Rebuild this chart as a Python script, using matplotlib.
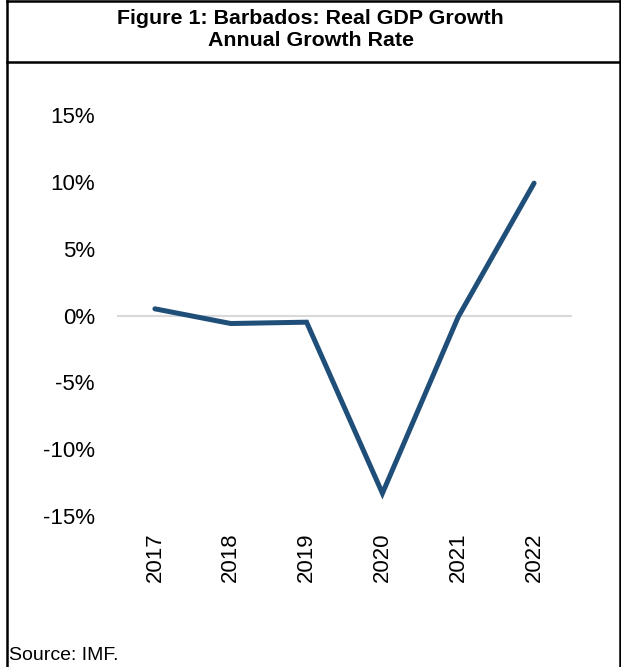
import matplotlib.pyplot as plt
from matplotlib.lines import Line2D
from matplotlib.ticker import FuncFormatter

# Real GDP growth, annual %
years = ["2017", "2018", "2019", "2020", "2021", "2022"]
growth = [0.5, -0.6, -0.5, -13.3, -0.1, 9.9]
yticks = [-15, -10, -5, 0, 5, 10, 15]

plt.rcParams['font.family'] = ['Liberation Sans', 'DejaVu Sans']

fig = plt.figure(figsize=(6.21, 6.67), dpi=100)

# Plot area
ax = fig.add_axes([117 / 621, 1 - 516 / 667, 455 / 621, 401 / 667])
x = range(len(years))
ax.axhline(0, color='#D9D9D9', linewidth=1.5, zorder=1)
ax.plot(x, growth, color='#1F4E79', linewidth=3.6, solid_capstyle='round',
        solid_joinstyle='miter', zorder=2)

ax.set_xlim(-0.5, len(years) - 0.5)
ax.set_ylim(-15, 15)
ax.set_xticks(list(x))
ax.set_xticklabels(years, rotation=90, fontsize=16)
ax.set_yticks(yticks)
ax.yaxis.set_major_formatter(FuncFormatter(lambda v, p: f"{v:.0f}%"))
ax.tick_params(axis='y', labelsize=16, length=0, pad=16)
ax.tick_params(axis='x', length=0, pad=12)
for s in ax.spines.values():
    s.set_visible(False)

# Frame around the figure and the title box
W, H = 621, 667
def fline(x0, y0, x1, y1, lw=1.8):
    fig.add_artist(Line2D([x0 / W, x1 / W], [1 - y0 / H, 1 - y1 / H],
                          color='black', linewidth=lw, transform=fig.transFigure))

fline(7, 1, 619.5, 1)
fline(7, 1, 7, 667)
fline(619.5, 1, 619.5, 667)
fline(7, 62, 619.5, 62)

fig.text(0.5, 1 - 29 / H, "Figure 1: Barbados: Real GDP Growth\nAnnual Growth Rate",
         ha='center', va='center', fontsize=15.4, fontweight='bold', linespacing=1.2)
fig.text(9 / W, 1 - 655 / H, "Source: IMF.", ha='left', va='center', fontsize=14)

fig.savefig("out.png", dpi=100)
